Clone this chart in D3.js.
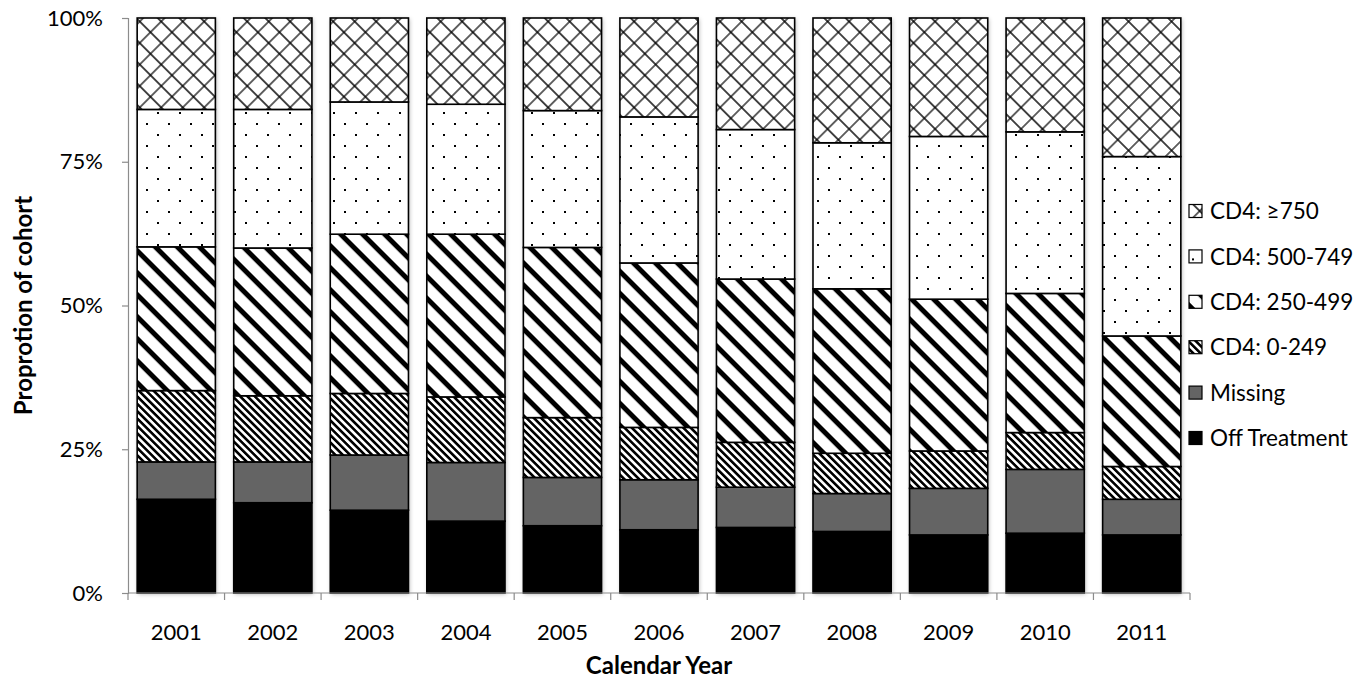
<!DOCTYPE html>
<html>
<head>
<meta charset="utf-8">
<script src="https://cdn.jsdelivr.net/npm/d3@7"></script>
<style>
  html, body { margin: 0; padding: 0; background: #fff; }
  svg { display: block; font-family: Lato, "Open Sans", sans-serif; }
</style>
</head>
<body>
<svg id="chart" width="1368" height="680"></svg>
<script>
// Calendar years on the x axis
const years = ["2001","2002","2003","2004","2005","2006","2007","2008","2009","2010","2011"];

// Share of the cohort (%) in each state, per year
const offTreatment = [16.3, 15.7, 14.4, 12.5, 11.7, 11.0, 11.4, 10.7, 10.1, 10.4, 10.1];
const missing      = [6.5, 7.1, 9.6, 10.2, 8.4, 8.7, 7.0, 6.6, 8.1, 11.1, 6.2];
const cd4_0_249    = [12.4, 11.5, 10.7, 11.4, 10.4, 9.1, 7.8, 7.0, 6.5, 6.4, 5.7];
const cd4_250_499  = [25.0, 25.7, 27.7, 28.3, 29.6, 28.6, 28.4, 28.6, 26.4, 24.2, 22.7];
const cd4_500_749  = [23.9, 24.1, 23.0, 22.6, 23.8, 25.4, 26.0, 25.4, 28.3, 28.1, 31.2];
const cd4_750plus  = [15.9, 15.9, 14.6, 15.0, 16.1, 17.2, 19.4, 21.7, 20.6, 19.8, 24.1];

// Series names, bottom of the stack first
const seriesNames = ["Off Treatment", "Missing", "CD4: 0-249", "CD4: 250-499", "CD4: 500-749", "CD4: \u2265750"];
const seriesValues = [offTreatment, missing, cd4_0_249, cd4_250_499, cd4_500_749, cd4_750plus];

// Y axis tick values
const yTicks = [0, 0.25, 0.5, 0.75, 1];

const rows = years.map((yr, i) => {
  const r = { year: yr };
  seriesNames.forEach((n, j) => r[n] = seriesValues[j][i]);
  return r;
});

const svg = d3.select("#chart");
const plot = { left: 128, right: 1190, top: 18, bottom: 593 };

const x = d3.scaleBand()
  .domain(years)
  .range([plot.left, plot.right])
  .paddingInner(0.19)
  .paddingOuter(0.095);

const y = d3.scaleLinear().domain([0, 1]).range([plot.bottom, plot.top]);

const stack = d3.stack().keys(seriesNames).offset(d3.stackOffsetExpand);
const stacked = stack(rows);

// ---- fill patterns ----
const defs = svg.append("defs");

// outlined diamonds
const pDiamond = defs.append("pattern")
  .attr("id", "pat-diamond")
  .attr("patternUnits", "userSpaceOnUse")
  .attr("width", 15.2).attr("height", 15.2)
  .attr("patternTransform", "rotate(45)");
pDiamond.append("rect").attr("width", 15.2).attr("height", 15.2).attr("fill", "#fff");
pDiamond.append("path")
  .attr("d", "M0,7.6 H15.2 M7.6,0 V15.2")
  .attr("stroke", "#000").attr("stroke-width", 1.2);

// dotted
const pDots = defs.append("pattern")
  .attr("id", "pat-dots")
  .attr("patternUnits", "userSpaceOnUse")
  .attr("width", 22).attr("height", 22)
  .attr("x", 3).attr("y", 2);
pDots.append("rect").attr("width", 22).attr("height", 22).attr("fill", "#fff");
pDots.append("rect").attr("x", 0).attr("y", 0).attr("width", 2).attr("height", 2).attr("fill", "#000");
pDots.append("rect").attr("x", 11).attr("y", 11).attr("width", 2).attr("height", 2).attr("fill", "#000");

// wide downward diagonal
const pWide = defs.append("pattern")
  .attr("id", "pat-wide")
  .attr("patternUnits", "userSpaceOnUse")
  .attr("width", 15.556).attr("height", 15.556)
  .attr("patternTransform", "rotate(45)");
pWide.append("rect").attr("width", 15.556).attr("height", 15.556).attr("fill", "#fff");
pWide.append("rect").attr("width", 15.556).attr("height", 5).attr("fill", "#000");

// narrow downward diagonal
const pNarrow = defs.append("pattern")
  .attr("id", "pat-narrow")
  .attr("patternUnits", "userSpaceOnUse")
  .attr("width", 5.2).attr("height", 5.2)
  .attr("patternTransform", "rotate(45)");
pNarrow.append("rect").attr("width", 5.2).attr("height", 5.2).attr("fill", "#fff");
pNarrow.append("rect").attr("width", 5.2).attr("height", 2.6).attr("fill", "#000");

// soft shadow round the bars
const shadow = defs.append("filter").attr("id", "bar-shadow")
  .attr("x", "-20%").attr("y", "-5%").attr("width", "140%").attr("height", "110%");
shadow.append("feDropShadow")
  .attr("dx", 1).attr("dy", 1).attr("stdDeviation", 2.2)
  .attr("flood-color", "#000").attr("flood-opacity", 0.3);

const fills = {
  "Off Treatment": "#000",
  "Missing": "#646464",
  "CD4: 0-249": "url(#pat-narrow)",
  "CD4: 250-499": "url(#pat-wide)",
  "CD4: 500-749": "url(#pat-dots)",
  "CD4: \u2265750": "url(#pat-diamond)"
};

// ---- bars ----
const barShadows = svg.append("g").attr("filter", "url(#bar-shadow)");
barShadows.selectAll("rect")
  .data(years)
  .join("rect")
  .attr("x", d => x(d))
  .attr("y", y(1))
  .attr("width", x.bandwidth())
  .attr("height", y(0) - y(1))
  .attr("fill", "#fff");

const layers = svg.append("g")
  .selectAll("g")
  .data(stacked)
  .join("g")
  .attr("fill", d => fills[d.key]);

layers.selectAll("rect")
  .data(d => d)
  .join("rect")
  .attr("x", d => x(d.data.year))
  .attr("y", d => y(d[1]))
  .attr("width", x.bandwidth())
  .attr("height", d => y(d[0]) - y(d[1]))
  .attr("stroke", "#000")
  .attr("stroke-width", 1.6);

// ---- axes ----
const axisColor = "#8c8c8c";

const yAxis = svg.append("g")
  .attr("transform", `translate(${plot.left},0)`)
  .call(d3.axisLeft(y).tickValues(yTicks).tickFormat(d3.format(".0%")).tickSize(6).tickPadding(19));
yAxis.select(".domain").attr("stroke", axisColor).attr("stroke-width", 1.2);
yAxis.selectAll(".tick line").attr("stroke", axisColor).attr("stroke-width", 1.2);
yAxis.selectAll(".tick text")
  .attr("font-size", 22).attr("fill", "#000")
  .attr("font-family", "Lato, sans-serif");

// x axis: line, boundary ticks and centred year labels
const xAxis = svg.append("g").attr("transform", `translate(0,${plot.bottom})`);
xAxis.append("line")
  .attr("x1", plot.left).attr("x2", plot.right)
  .attr("stroke", axisColor).attr("stroke-width", 1.2);
const bounds = d3.range(years.length + 1).map(i => x.range()[0] + i * x.step());
xAxis.selectAll("line.bound")
  .data(bounds)
  .join("line")
  .attr("class", "bound")
  .attr("x1", d => d).attr("x2", d => d)
  .attr("y1", 0).attr("y2", 7)
  .attr("stroke", axisColor).attr("stroke-width", 1.2);
xAxis.selectAll("text")
  .data(years)
  .join("text")
  .attr("x", d => x(d) + x.bandwidth() / 2)
  .attr("y", 47)
  .attr("text-anchor", "middle")
  .attr("font-size", 22)
  .text(d => d);

// axis titles
svg.append("text")
  .attr("x", (plot.left + plot.right) / 2)
  .attr("y", 674)
  .attr("text-anchor", "middle")
  .attr("font-size", 24)
  .attr("font-weight", "bold")
  .text("Calendar Year");

svg.append("text")
  .attr("transform", `translate(32,${(plot.top + plot.bottom) / 2}) rotate(-90)`)
  .attr("text-anchor", "middle")
  .attr("font-size", 24)
  .attr("font-weight", "bold")
  .text("Proprotion of cohort");

// ---- legend (top series first) ----
const legendItems = seriesNames.slice().reverse();
const legend = svg.append("g").attr("transform", "translate(1189,211)");
const li = legend.selectAll("g")
  .data(legendItems)
  .join("g")
  .attr("transform", (d, i) => `translate(0,${i * 45.4})`);
li.append("rect")
  .attr("x", 0).attr("y", -6.5)
  .attr("width", 13).attr("height", 13)
  .attr("fill", d => fills[d])
  .attr("stroke", "#000")
  .attr("stroke-width", 1.2);
li.append("text")
  .attr("x", 21)
  .attr("y", 0)
  .attr("dy", "0.36em")
  .attr("font-size", 22.5)
  .text(d => d);
</script>
</body>
</html>
